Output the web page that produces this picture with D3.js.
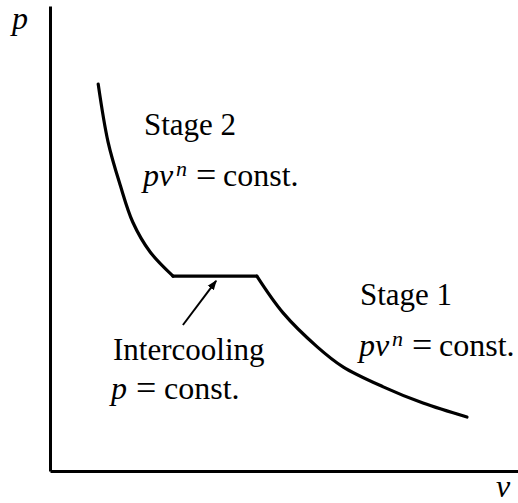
<!DOCTYPE html>
<html>
<head>
<meta charset="utf-8">
<script src="https://cdn.jsdelivr.net/npm/d3@7"></script>
<style>
  html, body { margin: 0; padding: 0; background: #fff; }
  svg { display: block; }
</style>
</head>
<body>
<svg id="chart" width="518" height="503"></svg>
<script>
// Two-stage compression with intercooling on a p–v diagram (arbitrary units)
const stage2V = [1.03, 1.24, 1.50, 1.77, 2.14, 2.63];
const stage2P = [8.32, 7.08, 6.15, 5.35, 4.71, 4.19];

const intercoolV = [2.63, 4.42];
const intercoolP = [4.19, 4.19];

const stage1V = [4.42, 4.98, 5.71, 6.26, 7.12, 7.97, 8.91];
const stage1P = [4.19, 3.40, 2.67, 2.24, 1.81, 1.46, 1.16];

// pointer from the intercooling label to the constant-pressure line
const pointerV = [2.84, 3.55];
const pointerP = [3.14, 4.09];

const serif = '"Liberation Serif", Tinos, monospace';

const svg = d3.select("#chart");

const x = d3.scaleLinear().domain([0, 10]).range([50, 518]);
const y = d3.scaleLinear().domain([0, 10]).range([471, 6]);

// axes: plain lines, no ticks
const xAxis = d3.axisBottom(x).tickValues([]).tickSizeOuter(0);
const yAxis = d3.axisLeft(y).tickValues([]).tickSizeOuter(0);

svg.append("g").attr("transform", `translate(0,${y(0)})`).call(xAxis)
  .select(".domain").attr("stroke", "#000").attr("stroke-width", 3);
svg.append("g").attr("transform", `translate(${x(0)},0)`).call(yAxis)
  .select(".domain").attr("stroke", "#000").attr("stroke-width", 3);

const toPts = (vs, ps) => vs.map((v, i) => [v, ps[i]]);

const smooth = d3.line().x(d => x(d[0])).y(d => y(d[1])).curve(d3.curveCatmullRom.alpha(0.5));
const straight = d3.line().x(d => x(d[0])).y(d => y(d[1]));

const process = svg.append("g")
  .attr("fill", "none").attr("stroke", "#000")
  .attr("stroke-width", 3.2).attr("stroke-linecap", "round").attr("stroke-linejoin", "round");

process.append("path").attr("d", smooth(toPts(stage2V, stage2P)));
process.append("path").attr("d", straight(toPts(intercoolV, intercoolP)));
process.append("path").attr("d", smooth(toPts(stage1V, stage1P)));

// arrowhead marker
svg.append("defs").append("marker")
  .attr("id", "head")
  .attr("viewBox", "0 0 10 10")
  .attr("refX", 9).attr("refY", 5)
  .attr("markerWidth", 10).attr("markerHeight", 10)
  .attr("markerUnits", "userSpaceOnUse")
  .attr("orient", "auto")
  .append("path").attr("d", "M0,1.2 L10,5 L0,8.8 Z").attr("fill", "#000");

svg.append("path")
  .attr("d", straight(toPts(pointerV, pointerP)))
  .attr("fill", "none").attr("stroke", "#000").attr("stroke-width", 2)
  .attr("marker-end", "url(#head)");

// labels
const fs = 31;   // body text
const efs = 32;  // equation text
function txt(tx, ty, size) {
  return svg.append("text").attr("x", tx).attr("y", ty).attr("font-size", size)
    .style("font-family", serif).attr("fill", "#000");
}
// math-style equation: italic symbols, wide spacing around "="
function eqLabel(tx, ty, lhsIsPv) {
  const t = txt(tx, ty, efs);
  let eqX, constX;
  if (lhsIsPv) {
    t.append("tspan").style("font-style", "italic").text("pv");
    t.append("tspan").attr("x", tx + 33).attr("dy", -10)
      .style("font-style", "italic").attr("font-size", 22).text("n");
    eqX = tx + 53; constX = tx + 80;
  } else {
    t.append("tspan").style("font-style", "italic").text("p");
    eqX = tx + 25; constX = tx + 53;
  }
  t.append("tspan").attr("x", eqX).attr("y", ty + 1).attr("font-size", 36).text("=");
  t.append("tspan").attr("x", constX).attr("y", ty).text("const.");
}

txt(144, 135, fs).text("Stage 2");
eqLabel(143, 186, true);

txt(360, 305, fs).text("Stage 1");
eqLabel(359, 356, true);

txt(113, 360, fs).text("Intercooling");
eqLabel(111, 399, false);

// axis titles
txt(12, 29, 32).style("font-style", "italic").text("p");
txt(496, 497, 32).style("font-style", "italic").text("v");
</script>
</body>
</html>
